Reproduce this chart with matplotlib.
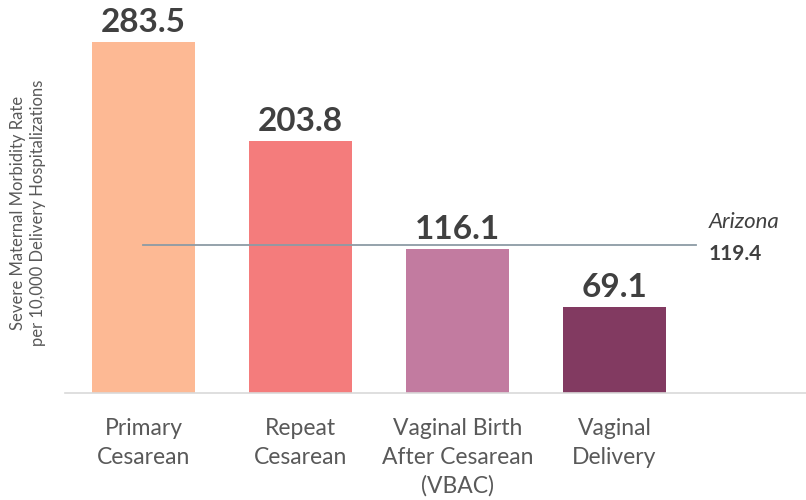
import matplotlib.pyplot as plt

plt.rcParams['font.family'] = ['Lato', 'DejaVu Sans']

# Severe maternal morbidity rate by delivery type
categories = ['Primary\nCesarean', 'Repeat\nCesarean',
              'Vaginal Birth\nAfter Cesarean\n(VBAC)', 'Vaginal\nDelivery']
rates = [283.5, 203.8, 116.1, 69.1]
bar_colors = ['#FDB994', '#F47C7C', '#C27BA0', '#823A61']
state_rate = 119.4
state_name = 'Arizona'

fig = plt.figure(figsize=(8.06, 5.0), dpi=100)
ax = fig.add_axes([65 / 806, 107 / 500, 741 / 806, 393 / 500])

x = list(range(len(categories)))
bars = ax.bar(x, rates, width=0.66, color=bar_colors, zorder=2)

for xi, v in zip(x, rates):
    ax.text(xi, v + 4, f'{v:.1f}', ha='center', va='bottom',
            fontsize=24, fontweight='bold', color='#404040')

# State average reference line
ax.plot([0, 3.52], [state_rate, state_rate], color='#8C9BA5', lw=1.3, zorder=3)
ax.text(3.6, state_rate + 11, state_name, fontsize=16, style='italic',
        color='#404040', va='bottom', ha='left')
ax.text(3.6, state_rate + 1, f'{state_rate:.1f}', fontsize=15, fontweight='bold',
        color='#404040', va='top', ha='left')

ax.set_xlim(-0.5, 4.22)
ax.set_ylim(0, 317.4)
ax.set_xticks(x)
ax.set_xticklabels(categories, fontsize=16.5, color='#595959', linespacing=1.45, va='top')
ax.tick_params(axis='x', length=0, pad=18)
ax.set_yticks([])
for side in ['top', 'right', 'left']:
    ax.spines[side].set_visible(False)
ax.spines['bottom'].set_color('#D9D9D9')
ax.spines['bottom'].set_linewidth(1.2)

fig.text(28 / 806, 1 - 213 / 500,
         'Severe Maternal Morbidity Rate\nper 10,000 Delivery Hospitalizations',
         rotation=90, ha='center', va='center', fontsize=12, color='#595959',
         linespacing=1.35)

fig.savefig('out.png', dpi=100)
